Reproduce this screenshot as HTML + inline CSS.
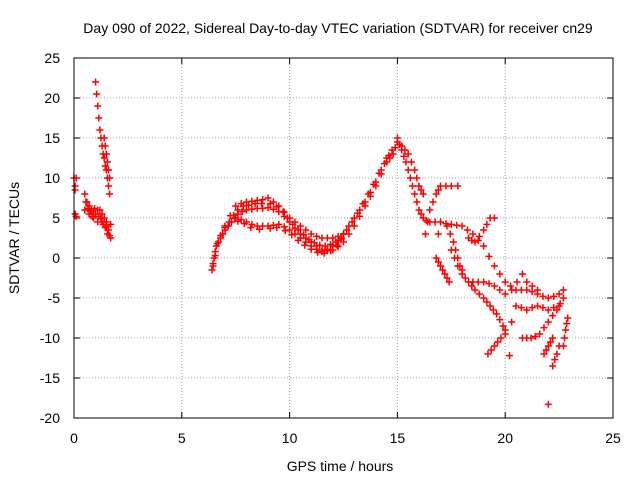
<!DOCTYPE html>
<html><head><meta charset="utf-8"><style>
body{margin:0;background:#fff;}
svg text{font-family:"Liberation Sans",sans-serif;font-size:14px;fill:#000;}
</style></head><body>
<svg id="chart" width="640" height="480">
<text x="338" y="33" text-anchor="middle">Day 090 of 2022, Sidereal Day-to-day VTEC variation (SDTVAR) for receiver cn29</text>
<text x="340" y="471" text-anchor="middle">GPS time / hours</text>
<text transform="translate(19,238) rotate(-90)" text-anchor="middle">SDTVAR / TECUs</text>
<g id="grid"></g><g id="ticks"></g><g id="marks"></g>
<rect x="74" y="58" width="539" height="360" fill="none" stroke="#000" stroke-width="1"/>
</svg>
<script>
const xTicks=[0,5,10,15,20,25];
const yTicks=[25,20,15,10,5,0,-5,-10,-15,-20];
const tracks=[
[[0,10],[0.05,9],[0.05,8.5],[0.1,10],[0.05,5.5],[0.1,5.2]],
[[0.5,8],[0.6,7],[0.7,6.5],[0.8,6],[0.9,5.5],[1.0,5.5],[1.1,6],[1.2,6],[1.3,5.5],[1.4,5],[1.5,4.5],[1.6,3.5],[1.7,2.5]],
[[0.5,6],[0.7,5.5],[0.9,5],[1.1,4.5],[1.3,4.5],[1.5,4],[1.7,4.2]],
[[0.55,7],[0.65,6.2],[0.75,5.8],[0.85,5.2],[0.95,6.2],[1.15,5.2],[1.25,5],[1.35,4.2],[1.45,3.8],[1.55,3],[1.65,2.8]],
[[1.0,22],[1.05,20.5],[1.1,19],[1.15,17.5],[1.2,16],[1.25,15],[1.3,14],[1.35,13],[1.4,12.5],[1.45,11.5],[1.5,11],[1.55,10],[1.6,9],[1.65,8]],
[[1.4,15],[1.45,14],[1.5,13],[1.55,12],[1.6,11],[1.65,10]],
[[6.4,-1.5],[6.45,-0.7],[6.5,0],[6.55,0.8],[6.6,1.5],[6.7,2],[6.8,2.5],[6.9,3],[7,3.5],[7.15,4],[7.3,4.5],[7.45,5],[7.6,5.5],[7.8,5.8],[8,6],[8.25,6.1],[8.5,6.2],[8.75,6.2],[9,6.3],[9.25,6.1],[9.5,5.8],[9.75,5.2],[10,4.5],[10.25,3.7],[10.5,3],[10.75,2.5],[11,2],[11.25,1.5],[11.5,1],[11.75,0.9],[12,1],[12.25,1.4],[12.5,2],[12.75,3],[13,4],[13.25,5.2],[13.5,6.5],[13.75,7.7],[14,9],[14.25,10.5],[14.5,12],[14.65,12.5],[14.8,13]],
[[6.45,-1],[6.55,0.3],[6.65,1.8],[6.8,2.8],[7.0,3.8],[7.2,4.5],[7.4,5.3],[7.6,6],[7.85,6.5],[8.1,6.6],[8.4,6.8],[8.7,6.8],[9.1,6.8],[9.4,6.4],[9.7,5.8],[9.9,5],[10.15,4.2],[10.4,3.5],[10.65,2.9],[10.9,2.3],[11.15,1.9],[11.4,1.6],[11.65,1.5],[11.9,1.7],[12.15,2],[12.4,2.5],[12.65,3.5],[12.9,4.5],[13.15,5.6],[13.4,6.8],[13.65,8],[13.9,9.2],[14.15,10.6],[14.4,11.8],[14.6,12.8],[14.9,13.8]],
[[7,4],[7.25,5.3],[7.5,6.5],[7.75,6.8],[8,7],[8.25,7.1],[8.5,7.2],[8.75,7.3],[9,7.5],[9.25,7],[9.5,6.5],[9.75,5.7],[10,5],[10.25,4.5],[10.5,4],[10.75,3.5],[11,3],[11.25,2.7],[11.5,2.5],[11.75,2.5],[12,2.5],[12.25,2.7],[12.5,3],[12.75,4],[13,5],[13.25,6],[13.5,7],[13.75,8.2],[14,9.5],[14.25,11],[14.5,12.5],[14.75,13.5],[15,14.5]],
[[7.5,5],[7.75,4.8],[8,4.5],[8.25,4.2],[8.5,4],[8.75,4],[9,4],[9.25,4.1],[9.5,4.2],[9.75,3.9],[10,3.5],[10.25,3],[10.5,2.5],[10.75,2],[11,1.5],[11.25,1.1],[11.5,0.8],[11.75,1.1],[12,1.5],[12.25,2.2],[12.5,3]],
[[7.6,4.6],[7.9,4.3],[8.2,3.8],[8.6,3.6],[9.1,3.7],[9.4,3.8],[9.8,3.4],[10.1,2.9],[10.4,2.2],[10.7,1.6],[11,1.1],[11.3,0.7],[11.6,0.6],[11.9,0.9],[12.2,1.6],[12.4,2.4]],
[[15,15],[15.1,14.2],[15.2,13.5],[15.3,12.7],[15.4,12],[15.5,11],[15.6,10],[15.7,9],[15.8,8],[15.9,7],[16,6],[16.1,5.5],[16.2,5],[16.35,4.7],[16.5,4.5],[16.75,4.5],[17,4.5],[17.25,4.3],[17.5,4.2],[17.75,4.1],[18,4],[18.25,3.5],[18.5,3],[18.75,2.2],[19,1.5],[19.25,0.2],[19.5,-1],[19.75,-2],[20,-3],[20.25,-3.5],[20.5,-4],[20.75,-4],[21,-4],[21.25,-4.2],[21.5,-4.5],[21.75,-4.8],[22,-5],[22.25,-4.8],[22.5,-4.5],[22.7,-4]],
[[16.3,3],[16.4,4.5],[16.5,6],[16.65,7],[16.8,8],[16.9,8.5],[17,9],[17.25,9],[17.5,9],[17.8,9]],
[[15.2,14],[15.35,13.5],[15.5,13],[15.65,12],[15.8,11],[15.9,10],[16,9],[16.1,8.5],[16.2,8]],
[[16.8,0],[16.9,-0.5],[17,-1],[17.1,-1.5],[17.2,-2],[17.3,-2.5],[17.4,-3]],
[[17.3,4],[17.45,3],[17.6,2],[17.7,1],[17.8,0],[17.9,-1],[18,-2],[18.15,-2.5],[18.3,-3],[18.45,-3.5],[18.6,-4],[18.8,-4.5],[19,-5],[19.15,-5.5],[19.3,-6],[19.45,-6.5],[19.6,-7],[19.75,-7.7],[19.9,-8.5],[20,-9]],
[[17.5,1],[17.65,0],[17.8,-1],[18,-1.5]],
[[18.3,2.5],[18.45,2.2],[18.6,2],[18.8,2.7],[19,3.5],[19.15,4.2],[19.3,5],[19.5,5]],
[[18.5,-3],[18.75,-3],[19,-3],[19.25,-3.2],[19.5,-3.5],[19.75,-4],[20,-4.5],[20.3,-4],[20.55,-3],[20.8,-2],[21,-3],[21.25,-3.5],[21.5,-4]],
[[19.2,-12],[19.35,-11.5],[19.5,-11],[19.65,-10.5],[19.8,-10],[20,-9.5]],
[[20.5,-6],[20.75,-6.2],[21,-6.5],[21.25,-6.2],[21.5,-6],[21.75,-6.2],[22,-6.5],[22.25,-6.2],[22.5,-6]],
[[20.8,-10],[21,-10],[21.2,-10],[21.4,-9.8],[21.6,-9.5],[21.8,-8.7],[22,-8],[22.2,-7.2],[22.4,-6.5],[22.55,-5.7],[22.7,-5]],
[[21.8,-12],[21.9,-11.5],[22,-11],[22.1,-10.5],[22.2,-10]],
[[22.2,-13.5],[22.3,-12.7],[22.4,-12],[22.5,-11]],
[[22.7,-11],[22.75,-10],[22.8,-9],[22.85,-8.2],[22.9,-7.5]],
[[22,-18.3],[20.2,-12.2],[20.3,-8],[16.9,3]]
];
const NS='http://www.w3.org/2000/svg';
const X0=74,X1=613,Y0=418,Y1=58,xmin=0,xmax=25,ymin=-20,ymax=25;
function sx(v){return X0+(v-xmin)/(xmax-xmin)*(X1-X0);}
function sy(v){return Y0-(v-ymin)/(ymax-ymin)*(Y0-Y1);}
const grid=document.getElementById('grid'),ticks=document.getElementById('ticks'),marks=document.getElementById('marks');
function el(t,a){const e=document.createElementNS(NS,t);for(const k in a)e.setAttribute(k,a[k]);return e;}
xTicks.forEach(v=>{
  const x=sx(v);
  if(v>xmin&&v<xmax){const g=el('line',{x1:x,x2:x,y1:Y1,y2:Y0,stroke:'#a0a0a0','stroke-dasharray':'1,2'});
  
  grid.appendChild(g);}
  const t1=el('line',{x1:x,x2:x,y1:Y0,y2:Y0-6,stroke:'#000'});
  
  ticks.appendChild(t1);
  const t2=el('line',{x1:x,x2:x,y1:Y1,y2:Y1+6,stroke:'#000'});
  
  ticks.appendChild(t2);
  const lb=el('text',{x:x,y:443,'text-anchor':'middle'});lb.textContent=v;
  
  ticks.appendChild(lb);
});
yTicks.forEach(v=>{
  const y=sy(v);
  if(v>ymin&&v<ymax){const g=el('line',{x1:X0,x2:X1,y1:y,y2:y,stroke:'#a0a0a0','stroke-dasharray':'1,2'});
  
  grid.appendChild(g);}
  const t1=el('line',{x1:X0,x2:X0+6,y1:y,y2:y,stroke:'#000'});
  
  ticks.appendChild(t1);
  const t2=el('line',{x1:X1,x2:X1-6,y1:y,y2:y,stroke:'#000'});
  
  ticks.appendChild(t2);
  const lb=el('text',{x:60,y:y+5,'text-anchor':'end'});lb.textContent=v;
  
  ticks.appendChild(lb);
});
tracks.forEach(tr=>{
  let d='';
  tr.forEach(p=>{const x=sx(p[0]),y=sy(p[1]);d+='M'+(x-3.5)+' '+y+'h7M'+x+' '+(y-3.5)+'v7';});
  const path=el('path',{d:d,stroke:'#ff0000','stroke-width':'1.5',fill:'none'});
  
  
  marks.appendChild(path);
});
</script>
</body></html>
